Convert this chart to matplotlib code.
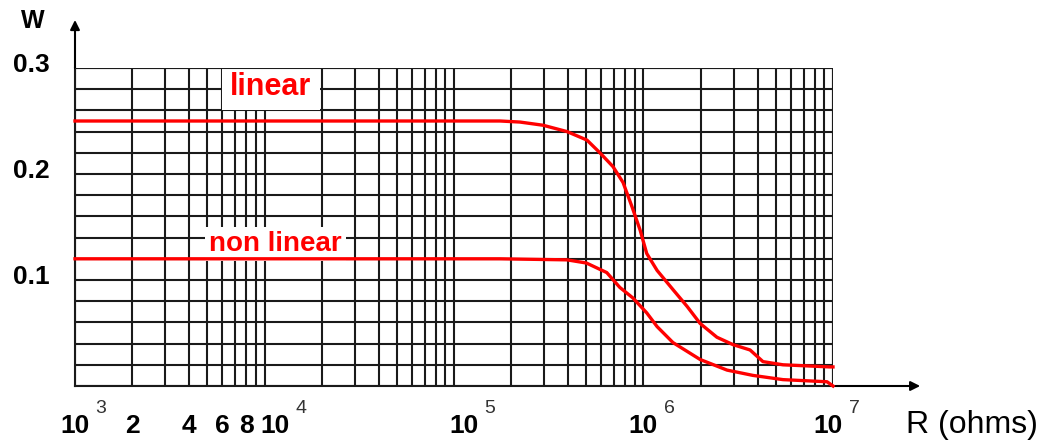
import numpy as np
import matplotlib.pyplot as plt
from matplotlib.ticker import LogLocator, MultipleLocator
import matplotlib.transforms as mtransforms

plt.rcParams['font.family'] = ['Liberation Sans', 'DejaVu Sans']

# data
r_linear = [1e3, 1.75e5, 2.23e5, 2.95e5, 3.95e5, 5.03e5, 5.89e5, 6.9e5, 7.8e5, 8.7e5,
            9.6e5, 1.04e6, 1.18e6, 1.43e6, 1.70e6, 1.99e6, 2.44e6, 2.97e6, 3.65e6,
            4.27e6, 5.45e6, 9.6e6, 1e7]
w_linear = [0.25, 0.25, 0.249, 0.246, 0.240, 0.232, 0.220, 0.207, 0.192, 0.169,
            0.147, 0.125, 0.109, 0.091, 0.075, 0.059, 0.046, 0.039, 0.034,
            0.023, 0.020, 0.018, 0.018]

r_nonlinear = [1e3, 1.75e5, 3.95e5, 5.0e5, 6.4e5, 7.5e5, 8.8e5, 1.04e6, 1.18e6,
               1.43e6, 1.99e6, 2.76e6, 3.78e6, 5.45e6, 9.3e6, 1e7]
w_nonlinear = [0.12, 0.12, 0.119, 0.116, 0.107, 0.093, 0.083, 0.069, 0.056,
               0.041, 0.025, 0.015, 0.010, 0.006, 0.004, 0.0]

x_ticks = [1e3, 2e3, 4e3, 6e3, 8e3, 1e4, 1e5, 1e6, 1e7]
x_tick_labels = ['10', '2', '4', '6', '8', '10', '10', '10', '10']
x_tick_exps = ['3', '', '', '', '', '4', '5', '6', '7']
y_ticks = [0.1, 0.2, 0.3]
y_tick_labels = ['0.1', '0.2', '0.3']

fig = plt.figure(figsize=(10.47, 4.40), dpi=100)
W, H = 1047, 440
ax = fig.add_axes([75 / W, (H - 386) / H, (833 - 75) / W, 318 / H])
ax.set_xscale('log')
ax.set_xlim(1e3, 1e7)
ax.set_ylim(0, 0.3)

# grid
ax.xaxis.set_major_locator(LogLocator(base=10, subs=(1.0,)))
ax.xaxis.set_minor_locator(LogLocator(base=10, subs=np.arange(2, 10)))
ax.yaxis.set_major_locator(MultipleLocator(0.02))
ax.grid(which='both', color='#1a1a1a', lw=1.5)
ax.tick_params(which='both', length=0, labelbottom=False, labelleft=False)
for s in ['left', 'bottom']:
    ax.spines[s].set_linewidth(1.5)
    ax.spines[s].set_color('#1a1a1a')
ax.spines['top'].set_visible(False)
ax.spines['right'].set_visible(False)
ax.axhline(0.3, color='#1a1a1a', lw=1.5, zorder=6)
ax.axvline(1e7, color='#1a1a1a', lw=1.5)

ax.plot(r_linear, w_linear, color='#ff0000', lw=2.4, zorder=6, clip_on=False)
ax.plot(r_nonlinear, w_nonlinear, color='#ff0000', lw=2.4, zorder=6, clip_on=False)

# curve labels with white boxes
ax.text(6.6e3, 0.2745, 'linear', color='#ff0000', fontsize=22, fontweight='bold',
        ha='left', va='baseline', zorder=5,
        bbox=dict(fc='white', ec='none', pad=6))
ax.text(5.1e3, 0.1274, 'non linear', color='#ff0000', fontsize=20, fontweight='bold',
        ha='left', va='baseline', zorder=5,
        bbox=dict(fc='white', ec='none', pad=3))

# axis arrows
ax.annotate('', xy=(1.115, 0), xytext=(1.0, 0), xycoords='axes fraction',
            arrowprops=dict(arrowstyle='-|>', color='black', lw=1.5,
                            mutation_scale=14, shrinkA=0, shrinkB=0))
ax.annotate('', xy=(0, 1.151), xytext=(0, 1.0), xycoords='axes fraction',
            arrowprops=dict(arrowstyle='-|>', color='black', lw=1.5,
                            mutation_scale=14, shrinkA=0, shrinkB=0))

# x tick labels
trans = mtransforms.blended_transform_factory(ax.transData, ax.transAxes)
shift = {1e4: 10, 1e5: 10, 1e7: -5}
for xv, lab, ex in zip(x_ticks, x_tick_labels, x_tick_exps):
    off = mtransforms.offset_copy(trans, fig=fig, x=shift.get(xv, 0), y=0, units='dots')
    ax.text(xv, -0.125, lab, transform=off, ha='center', va='center',
            fontsize=19, fontweight='bold')
    if ex:
        off2 = mtransforms.offset_copy(trans, fig=fig, x=shift.get(xv, 0) + 26, y=0, units='dots')
        ax.text(xv, -0.07, ex, transform=off2, ha='center', va='center',
                fontsize=14, color='#333333')

# y tick labels
for yv, lab in zip(y_ticks, y_tick_labels):
    ax.text(-0.033, yv + 0.003, lab, transform=mtransforms.blended_transform_factory(ax.transAxes, ax.transData),
            ha='right', va='center', fontsize=19, fontweight='bold')

fig.text(33 / W, 1 - 21 / H, 'W', ha='center', va='center', fontsize=18, fontweight='bold')
fig.text(972 / W, 1 - 425 / H, 'R (ohms)', ha='center', va='center', fontsize=23)

fig.savefig('out.png', dpi=100)
